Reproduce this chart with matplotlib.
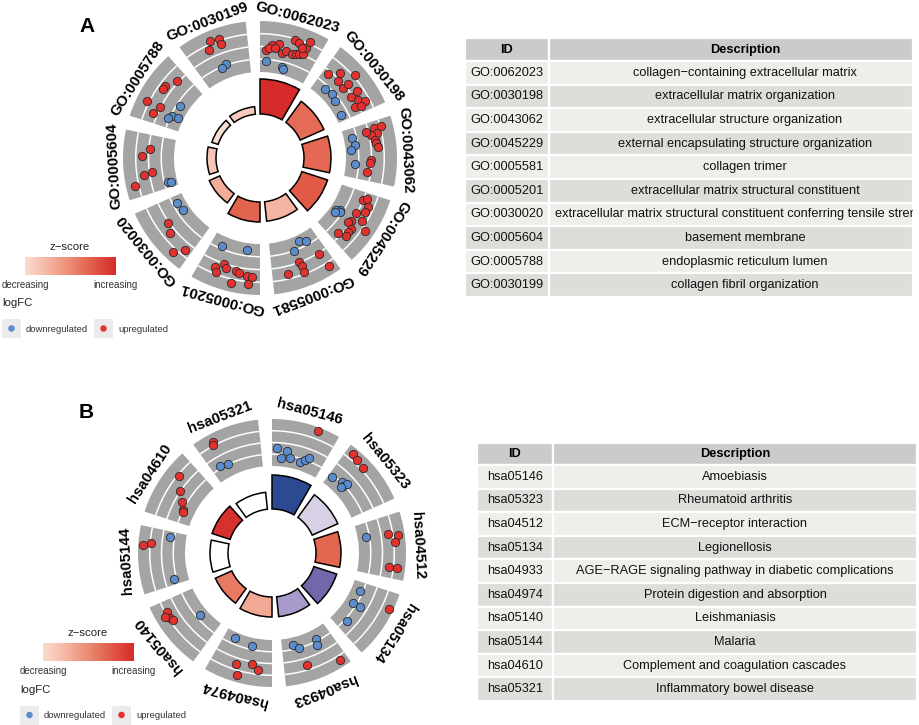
import numpy as np
import matplotlib
matplotlib.use('Agg')
import matplotlib.pyplot as plt
from matplotlib.patches import Wedge, Rectangle
from matplotlib.colors import LinearSegmentedColormap, Normalize

plt.rcParams['font.family'] = ['Liberation Sans', 'DejaVu Sans']

# ---------------- data ----------------
A_ids = ['GO:0062023', 'GO:0030198', 'GO:0043062', 'GO:0045229', 'GO:0005581',
         'GO:0005201', 'GO:0030020', 'GO:0005604', 'GO:0005788', 'GO:0030199']
A_desc = ['collagen\u2212containing extracellular matrix',
          'extracellular matrix organization',
          'extracellular structure organization',
          'external encapsulating structure organization',
          'collagen trimer',
          'extracellular matrix structural constituent',
          'extracellular matrix structural constituent conferring tensile strength',
          'basement membrane',
          'endoplasmic reticulum lumen',
          'collagen fibril organization']
A_neglogp = [17.5, 13.0, 13.5, 13.5, 9.75, 10.0, 5.75, 4.5, 3.3, 3.8]
A_zscore = [5.5, 4.0, 4.1, 4.4, 2.2, 4.2, 2.4, 1.75, 1.1, 1.6]
# (term index, position within term, logFC)
A_up = [(0, .05, .65), (0, .15, 1.2), (0, .25, 1.4), (0, .33, .6), (0, .40, .85), (0, .50, .75),
        (0, .56, .85), (0, .61, .95), (0, .68, 1.15), (0, .68, 1.75), (0, .70, 2.4), (0, .48, 2.15),
        (0, .55, 1.95), (0, .62, 1.65), (0, .10, .9), (0, .20, 1.0),
        (1, .05, .7), (1, .19, 1.55), (1, .36, 2.45), (1, .25, .85), (1, .40, .75), (1, .40, 1.35),
        (1, .57, 1.6), (1, .61, .8), (1, .71, 1.2), (1, .77, 1.8), (1, .79, .65), (1, .81, 1.25),
        (2, .06, 1.6), (2, .05, 2.35), (2, .15, 1.8), (2, .16, 1.2), (2, .25, 1.5), (2, .30, 1.55),
        (2, .36, 1.7), (2, .56, .95), (2, .62, .85), (2, .78, .65), (2, .09, .75),
        (3, .08, 1.0), (3, .04, 1.3), (3, .15, 1.7), (3, .25, 1.65), (3, .33, .9), (3, .49, .95),
        (3, .53, .75), (3, .39, 1.8), (3, .49, 2.6), (3, .60, 1.4), (3, .66, 1.35), (3, .73, 1.5),
        (3, .79, .7),
        (4, .10, 1.1), (4, .45, .95), (4, .43, 1.4), (4, .43, 2.05), (4, .68, 1.75), (4, .06, 2.65),
        (5, .68, 1.65), (5, .63, 2.05), (5, .55, 1.05), (5, .51, 1.35), (5, .34, 1.4), (5, .28, 1.55),
        (5, .15, 1.7), (5, .07, 1.75), (5, .13, 2.5), (5, .37, 2.65),
        (6, .56, 1.1), (6, .41, 1.6), (6, .17, 2.65), (6, .05, 1.7),
        (7, .13, 2.6), (7, .56, 1.65), (7, .68, .9), (7, .27, 1.55), (7, .30, .75),
        (8, .76, 1.15), (8, .57, 1.8), (8, .52, 1.75), (8, .24, 2.5), (8, .24, 1.05), (8, .10, 1.45),
        (9, .36, 2.55), (9, .50, 2.4), (9, .51, 1.85), (9, .30, 1.75)]
A_down = [(0, .06, -.4), (0, .38, -.75), (0, .42, -.9),
          (1, .19, -.6), (1, .34, -.5), (1, .49, -.65), (1, .80, -.95),
          (2, .14, -.7), (2, .28, -.55), (2, .37, -1.0), (2, .65, -.6),
          (3, .44, -.6), (3, .47, -.9), (3, .47, -.45), (3, .52, -.9),
          (4, .31, -.95), (4, .17, -.6), (4, .47, -.25),
          (5, .70, -.55), (5, .21, -.8),
          (6, .77, -.65), (6, .59, -.8),
          (7, .07, -.6), (7, .05, -.95),
          (8, .44, -.55), (8, .20, -.35), (8, .12, -.1), (8, .20, -1.0),
          (9, .48, -.1), (9, .38, -.35)]

B_ids = ['hsa05146', 'hsa05323', 'hsa04512', 'hsa05134', 'hsa04933',
         'hsa04974', 'hsa05140', 'hsa05144', 'hsa04610', 'hsa05321']
B_desc = ['Amoebiasis', 'Rheumatoid arthritis', 'ECM\u2212receptor interaction', 'Legionellosis',
          'AGE\u2212RAGE signaling pathway in diabetic complications',
          'Protein digestion and absorption', 'Leishmaniasis', 'Malaria',
          'Complement and coagulation cascades', 'Inflammatory bowel disease']
B_neglogp = [17.0, 14.0, 12.5, 12.0, 10.0, 10.0, 9.0, 9.0, 9.5, 8.5]
B_zscore = [-3.3, -0.66, 2.5, -2.3, -1.45, 1.5, 2.2, 0.0, 3.2, 0.0]
B_up = [(0, .62, 3.15),
        (1, .06, 2.85), (1, .16, 2.65), (1, .31, 2.5),
        (2, .23, 1.75), (2, .27, 2.8), (2, .37, 2.4), (2, .75, 1.8), (2, .75, 2.65),
        (3, .19, 3.05),
        (4, .55, 1.75), (4, .07, 2.75),
        (5, .53, 1.7), (5, .28, 1.2), (5, .17, 1.8), (5, .47, 2.75),
        (6, .75, 2.05), (6, .64, 2.15), (6, .70, 2.55), (6, .59, 2.0),
        (7, .65, 3.0), (7, .68, 2.2),
        (8, .65, 2.15), (8, .47, 1.05), (8, .32, .25), (8, .20, -.25), (8, .17, -.35),
        (9, .21, 2.65), (9, .19, 2.35)]
B_down = [(0, .04, .45), (0, .22, .25), (0, .13, -.6), (0, .30, -.45), (0, .50, -.6), (0, .58, -.25),
          (0, .64, .1),
          (1, .03, -.45), (1, .23, -.15), (1, .30, -.35), (1, .32, .1), (1, .28, -.55),
          (2, .22, -.65),
          (3, .13, -.5), (3, .39, -.6), (3, .39, .25), (3, .73, .05),
          (4, .69, -.75), (4, .60, -.2), (4, .24, -.45), (4, .27, .15),
          (5, .71, -.85), (5, .34, -.6),
          (6, .38, -.6),
          (7, .82, .2), (7, .05, .05),
          (9, .11, 0.0), (9, .26, -.15)]

LFC_RANGE = (-1.5, 3.5)

# ---------------- style ----------------
RED = '#E3312F'
BLUE = '#5B8CCB'
GRAY = '#A4A4A4'
zcmap = LinearSegmentedColormap.from_list('z', [
    (0.0, '#2C4A92'), (0.15, '#7366AB'), (0.28, '#A99CCB'), (0.40, '#D8D0E5'),
    (0.5, '#FFFFFF'), (0.6, '#FBDCD0'), (0.7, '#F5B6A3'), (0.8, '#EC8A74'),
    (0.88, '#E3654F'), (1.0, '#D62B2B')])

fig = plt.figure(figsize=(9.2, 7.25), dpi=100)
ax = fig.add_axes([0, 0, 1, 1])
ax.set_xlim(0, 920)
ax.set_ylim(725, 0)
ax.axis('off')


def polar(cx, cy, r, th):
    t = np.deg2rad(th)
    return cx + r * np.sin(t), cy - r * np.cos(t)


def go_circle(cx, cy, ids, neglogp, zsc, up, down, r_in, r_out, lab_r):
    n = len(ids)
    step = 360.0 / n
    r0 = 44.0
    k = 2.0
    zmax = max(abs(z) for z in zsc)
    norm = Normalize(-zmax, zmax)
    for i in range(n):
        t1, t2 = i * step, i * step + 30
        h = neglogp[i] * k
        ax.add_patch(Wedge((cx, cy), r0 + h, t1 - 90, t2 - 90, width=h,
                           facecolor=zcmap(norm(zsc[i])), edgecolor='black', lw=1.1, zorder=3))
        ax.add_patch(Wedge((cx, cy), r_out, t1 - 90, t2 - 90, width=r_out - r_in,
                           facecolor=GRAY, edgecolor='none', zorder=2))
        bw = (r_out - r_in) / 4.0
        for j in range(1, 4):
            rr = r_in + j * bw
            ax.add_patch(Wedge((cx, cy), rr + 0.75, t1 - 90, t2 - 90, width=1.5,
                               facecolor='white', edgecolor='none', zorder=2.5))
        tm = i * step + 15
        lx, ly = polar(cx, cy, lab_r, tm)
        ax.text(lx, ly, ids[i], rotation=-tm, rotation_mode='anchor', ha='center', va='center',
                fontsize=10.8, fontweight='bold', zorder=6)
    lo, hi = LFC_RANGE
    for dots, col in ((down, BLUE), (up, RED)):
        xs, ys = [], []
        for term, pos, lfc in dots:
            th = term * step + 1.5 + pos * 31
            rr = r_in + (lfc - lo) / (hi - lo) * (r_out - r_in)
            x, y = polar(cx, cy, rr, th)
            xs.append(x)
            ys.append(y)
        ax.scatter(xs, ys, s=36, c=col, edgecolors='#2a2a2a', linewidths=0.6, zorder=5)


def legend(zx, zy, gx0, gx1, gy0, gy1, ly, kx1, kx2, ky):
    ax.text(zx, zy, 'z\u2212score', ha='center', va='center', fontsize=8.2, color='#222222')
    grad = zcmap(np.linspace(0.6, 1.0, 256))[None, :, :]
    ax.imshow(grad, extent=(gx0, gx1, gy1, gy0), aspect='auto', zorder=1)
    ax.text(gx0, gy1 + 10, 'decreasing', ha='center', va='center', fontsize=7, color='#333333')
    ax.text(gx1, gy1 + 10, 'increasing', ha='center', va='center', fontsize=7, color='#333333')
    ax.text(kx1, ly, 'logFC', ha='left', va='center', fontsize=8.2, color='#222222')
    for kx, col, lab in ((kx1, BLUE, 'downregulated'), (kx2, RED, 'upregulated')):
        ax.add_patch(Rectangle((kx, ky - 9.5), 19, 19, facecolor='#EBEBEB', edgecolor='none'))
        ax.scatter([kx + 9.5], [ky], s=22, c=col, edgecolors='none', zorder=5)
        ax.text(kx + 24, ky + 0.5, lab, ha='left', va='center', fontsize=6.8, color='#333333')


def table(x0, xs, x1, ytop, hh, rh, ids, descs, idc, dc, clipx):
    HEAD = '#CBCBC9'
    ROWS = ['#EEEEEB', '#DDDDDA']
    clip = Rectangle((x0, ytop), clipx - x0, hh + rh * len(ids) + 2, transform=ax.transData)

    def cell(xa, xb, ya, yb, fc):
        ax.add_patch(Rectangle((xa, ya), xb - xa, yb - ya, facecolor=fc, edgecolor='white', lw=1.6))
    cell(x0, xs, ytop, ytop + hh, HEAD)
    cell(xs, x1, ytop, ytop + hh, HEAD)
    ax.text(idc, ytop + hh / 2, 'ID', ha='center', va='center', fontsize=9.2, fontweight='bold')
    ax.text(dc, ytop + hh / 2, 'Description', ha='center', va='center', fontsize=9.2,
            fontweight='bold')
    for i, (gid, d) in enumerate(zip(ids, descs)):
        ya = ytop + hh + i * rh
        cell(x0, xs, ya, ya + rh, ROWS[i % 2])
        cell(xs, x1, ya, ya + rh, ROWS[i % 2])
        ax.text(idc, ya + rh / 2, gid, ha='center', va='center', fontsize=9.2, color='#111111')
        tt = ax.text(dc, ya + rh / 2, d, ha='center', va='center', fontsize=9.2, color='#111111',
                     clip_on=True)
        tt.set_clip_path(clip)


# Panel A
go_circle(260, 158, A_ids, A_neglogp, A_zscore, A_up, A_down, 86, 137, 146)
ax.text(87, 26, 'A', ha='center', va='center', fontsize=15, fontweight='bold')
legend(70, 247, 25, 116, 257, 275, 303, 2, 94, 328.5)
table(465, 549, 913, 38, 23, 23.6, A_ids, A_desc, 507, 745, 913)

# Panel B
go_circle(272, 553, B_ids, B_neglogp, B_zscore, B_up, B_down, 87, 134, 146)
ax.text(86, 412, 'B', ha='center', va='center', fontsize=15, fontweight='bold')
legend(88, 633, 43, 134, 643, 661, 690, 20, 112, 715)
table(477, 553, 917, 443, 22, 23.6, B_ids, B_desc, 515, 735, 917)

ax.set_xlim(0, 920)
ax.set_ylim(725, 0)
fig.savefig('out.png', dpi=100)
